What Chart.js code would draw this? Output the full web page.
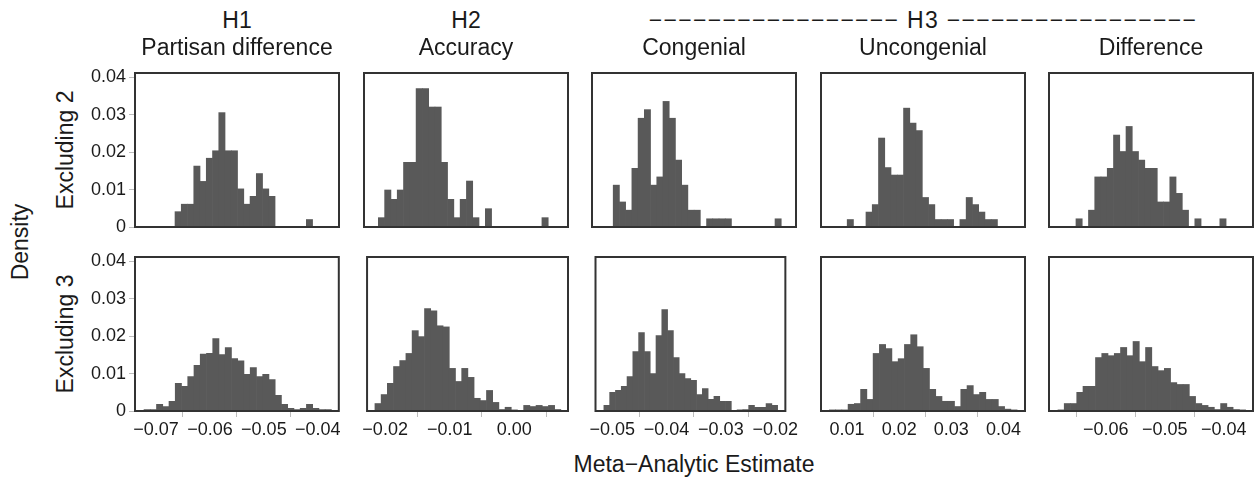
<!DOCTYPE html>
<html>
<head>
<meta charset="utf-8">
<script src="https://cdn.jsdelivr.net/npm/chart.js@4.4.1/dist/chart.umd.min.js"></script>
<style>
  body { margin: 0; background: #fff; }
  #wrap { position: relative; width: 1255px; height: 480px; overflow: hidden;
          font-family: "Liberation Sans", Arial, sans-serif; color: #1a1a1a; }
  #wrap canvas { position: absolute; }
  .lbl { position: absolute; white-space: nowrap; font-size: 23px; transform: translate(-50%, -50%); }
  .rot { transform: translate(-50%, -50%) rotate(-90deg); }
</style>
</head>
<body>
<div id="wrap"></div>
<script>
// ---- data ----
const hypotheses = ['H1', 'H2', 'H3'];
const columnNames = ['Partisan difference', 'Accuracy', 'Congenial', 'Uncongenial', 'Difference'];
const rowNames = ['Excluding 2', 'Excluding 3'];

// x-axis limits per column
const xMins = [-0.07389, -0.0228, -0.05307, 0.00502, -0.0696];
const xMaxs = [-0.03611, 0.00833, -0.01813, 0.04412, -0.03503];

// histogram bins: left edge of first bin (row 1 / row 2) and bin width per column
const binStartsExcl2 = [-0.06648, -0.02061, -0.04944, 0.01004, -0.06503];
const binStartsExcl3 = [-0.07222, -0.02158, -0.05153, 0.00661, -0.06808];
const binWidths = [0.001158, 0.00096, 0.001066, 0.0012, 0.00106];

// densities, row "Excluding 2"
const partisanExcl2 = [0.0041, 0.0061, 0.0061, 0.0163, 0.0122, 0.0184, 0.0204, 0.0306, 0.0204, 0.0204, 0.0102,
  0.0061, 0.0082, 0.0143, 0.0102, 0.0082, 0, 0, 0, 0, 0, 0.0020];
const accuracyExcl2 = [0.0025, 0.0099, 0.0074, 0.0099, 0.0173, 0.0173, 0.0370, 0.0370, 0.0321, 0.0321, 0.0173,
  0.0074, 0.0025, 0.0074, 0.0123, 0.0025, 0, 0.0049, 0, 0, 0, 0, 0, 0, 0, 0, 0.0025];
const congenialExcl2 = [0.0112, 0.0067, 0.0045, 0.0157, 0.0291, 0.0314, 0.0112, 0.0134, 0.0336, 0.0291, 0.0179,
  0.0112, 0.0045, 0.0045, 0, 0.0022, 0.0022, 0.0022, 0.0022, 0, 0, 0, 0, 0, 0, 0, 0.0022];
const uncongenialExcl2 = [0.0020, 0, 0, 0.0040, 0.0060, 0.0238, 0.0159, 0.0139, 0.0139, 0.0318, 0.0278, 0.0258,
  0.0079, 0.0060, 0.0020, 0.0020, 0.0020, 0, 0.0020, 0.0079, 0.0060, 0.0040, 0.0020, 0.0020];
const differenceExcl2 = [0.0022, 0, 0.0045, 0.0134, 0.0134, 0.0157, 0.0246, 0.0202, 0.0269, 0.0202, 0.0179, 0.0157,
  0.0157, 0.0067, 0.0067, 0.0134, 0.0090, 0.0045, 0, 0.0022, 0, 0, 0, 0.0022];

// densities, row "Excluding 3"
const partisanExcl3 = [0.0004, 0.0004, 0.0018, 0.0012, 0.0026, 0.0074, 0.0066, 0.0092, 0.0122, 0.0152, 0.0154,
  0.0194, 0.0151, 0.0170, 0.0140, 0.0134, 0.0098, 0.0116, 0.0092, 0.0098, 0.0084, 0.0042, 0.0018, 0.0007,
  0.0004, 0.0007, 0.0018, 0.0007, 0.0004, 0.0004];
const accuracyExcl3 = [0.0020, 0.0044, 0.0074, 0.0119, 0.0135, 0.0154, 0.0215, 0.0199, 0.0274, 0.0268, 0.0228,
  0.0225, 0.0114, 0.0079, 0.0114, 0.0090, 0.0034, 0.0028, 0.0055, 0.0023, 0.0004, 0.0010, 0.0003, 0,
  0.0015, 0.0012, 0.0015, 0.0012, 0.0015, 0.0004];
const congenialExcl3 = [0.0015, 0.0050, 0.0055, 0.0066, 0.0092, 0.0159, 0.0210, 0.0159, 0.0100, 0.0202, 0.0271,
  0.0215, 0.0143, 0.0100, 0.0087, 0.0082, 0.0044, 0.0060, 0.0031, 0.0039, 0.0026, 0.0026, 0, 0.0003,
  0.0004, 0.0015, 0.0010, 0.0010, 0.0020, 0.0015];
const uncongenialExcl3 = [0.0003, 0.0003, 0.0003, 0.0018, 0.0020, 0.0058, 0.0031, 0.0154, 0.0178, 0.0167, 0.0132,
  0.0140, 0.0178, 0.0204, 0.0172, 0.0114, 0.0058, 0.0039, 0.0026, 0.0026, 0.0012, 0.0058, 0.0068, 0.0044,
  0.0050, 0.0031, 0.0031, 0.0012, 0.0005, 0.0003];
const differenceExcl3 = [0.0003, 0.0020, 0.0020, 0.0050, 0.0066, 0.0066, 0.0143, 0.0154, 0.0148, 0.0154, 0.0170,
  0.0148, 0.0186, 0.0132, 0.0170, 0.0119, 0.0108, 0.0114, 0.0076, 0.0071, 0.0071, 0.0039, 0.0020, 0.0015,
  0.0010, 0.0004, 0.0020, 0.0010, 0.0004, 0.0003];

// ticks
const xTickValues = [[-0.07, -0.06, -0.05, -0.04], [-0.02, -0.01, 0], [-0.05, -0.04, -0.03, -0.02],
  [0.01, 0.02, 0.03, 0.04], [-0.06, -0.05, -0.04]];
const xTickLabels = [['−0.07', '−0.06', '−0.05', '−0.04'], ['−0.02', '−0.01', '0.00'],
  ['−0.05', '−0.04', '−0.03', '−0.02'], ['0.01', '0.02', '0.03', '0.04'], ['−0.06', '−0.05', '−0.04']];
const yTickValues = [0, 0.01, 0.02, 0.03, 0.04];
const yTickLabels = ['0', '0.01', '0.02', '0.03', '0.04'];
const yMax = 0.0412;

const panelData = [
  [partisanExcl2, accuracyExcl2, congenialExcl2, uncongenialExcl2, differenceExcl2],
  [partisanExcl3, accuracyExcl3, congenialExcl3, uncongenialExcl3, differenceExcl3]
];
const binStarts = [binStartsExcl2, binStartsExcl3];

// ---- layout ----
const boxLefts = [135, 364, 592, 821, 1049];
const boxTops = [73, 257];
const boxW = 204, boxH = 154;
const barColor = '#595959';
const tickColor = '#bdbdbd';
const fontFamily = '"Liberation Sans", Arial, sans-serif';
const wrap = document.getElementById('wrap');

const boxPlugin = {
  id: 'panelBox',
  afterDatasetsDraw(chart) {
    const { ctx, chartArea: a } = chart;
    ctx.save();
    ctx.strokeStyle = '#333333';
    ctx.lineWidth = 2;
    ctx.strokeRect(a.left, a.top, a.right - a.left, a.bottom - a.top);
    ctx.restore();
  }
};

function addLabel(text, x, y, rotated) {
  const d = document.createElement('div');
  d.className = 'lbl' + (rotated ? ' rot' : '');
  d.textContent = text;
  d.style.left = x + 'px';
  d.style.top = y + 'px';
  wrap.appendChild(d);
  return d;
}

function makePanel(row, col) {
  const hasY = col === 0;
  const hasX = row === 1;
  // room around the box so tick labels never squeeze the plot area
  const padL = hasY ? 50 : 4;
  const padT = 14;
  const padB = hasX ? 34 : 14;
  const canvas = document.createElement('canvas');
  canvas.width = boxW + padL + 4;
  canvas.height = boxH + padT + padB;
  canvas.style.left = (boxLefts[col] - padL) + 'px';
  canvas.style.top = (boxTops[row] - padT) + 'px';
  wrap.appendChild(canvas);

  const heights = panelData[row][col];
  const start = binStarts[row][col];
  const bw = binWidths[col];
  const points = heights.map((v, i) => ({ x: start + (i + 0.5) * bw, y: v }));

  new Chart(canvas.getContext('2d'), {
    type: 'bar',
    data: {
      datasets: [{
        data: points,
        backgroundColor: barColor,
        borderWidth: 0,
        barPercentage: 1,
        categoryPercentage: 1
      }]
    },
    options: {
      responsive: false,
      animation: false,
      devicePixelRatio: 1,
      layout: { padding: { left: 4, right: 4, top: padT, bottom: hasX ? 4 : padB } },
      plugins: { legend: { display: false }, tooltip: { enabled: false } },
      scales: {
        x: {
          type: 'linear',
          offset: false,
          min: xMins[col],
          max: xMaxs[col],
          display: hasX,
          border: { display: false },
          grid: { display: true, drawOnChartArea: false, drawTicks: true, tickLength: 6, color: tickColor, lineWidth: 1 },
          afterBuildTicks: s => { s.ticks = xTickValues[col].map(v => ({ value: v })); },
          afterFit: s => { s.height = hasX ? 30 : 0; },
          ticks: {
            autoSkip: false, maxRotation: 0, padding: 2, color: '#1a1a1a',
            font: { size: 18, family: fontFamily },
            callback: (v, i) => xTickLabels[col][i]
          }
        },
        y: {
          min: 0,
          max: yMax,
          display: hasY,
          border: { display: false },
          grid: { display: true, drawOnChartArea: false, drawTicks: true, tickLength: 6, color: tickColor, lineWidth: 1 },
          afterBuildTicks: s => { s.ticks = yTickValues.map(v => ({ value: v })); },
          afterFit: s => { s.width = hasY ? 46 : 0; },
          ticks: {
            autoSkip: false, padding: 3, color: '#1a1a1a',
            font: { size: 18, family: fontFamily },
            callback: (v, i) => yTickLabels[i]
          }
        }
      }
    },
    plugins: [boxPlugin]
  });
}

for (let r = 0; r < 2; r++) {
  for (let c = 0; c < 5; c++) makePanel(r, c);
}

// headers
const centers = boxLefts.map(l => l + boxW / 2);
addLabel(hypotheses[0], centers[0], 20);
addLabel(hypotheses[1], centers[1], 20);
const h3 = addLabel('−'.repeat(17) + ' ' + hypotheses[2] + ' ' + '−'.repeat(17), centers[3], 20);
h3.style.letterSpacing = '1.3px';
columnNames.forEach((n, i) => addLabel(n, centers[i], 47));
addLabel(rowNames[0], 65, boxTops[0] + boxH / 2, true);
addLabel(rowNames[1], 65, boxTops[1] + boxH / 2, true);
addLabel('Density', 20, (boxTops[0] + boxTops[1] + boxH) / 2, true);
addLabel('Meta−Analytic Estimate', centers[2], 464);
</script>
</body>
</html>
